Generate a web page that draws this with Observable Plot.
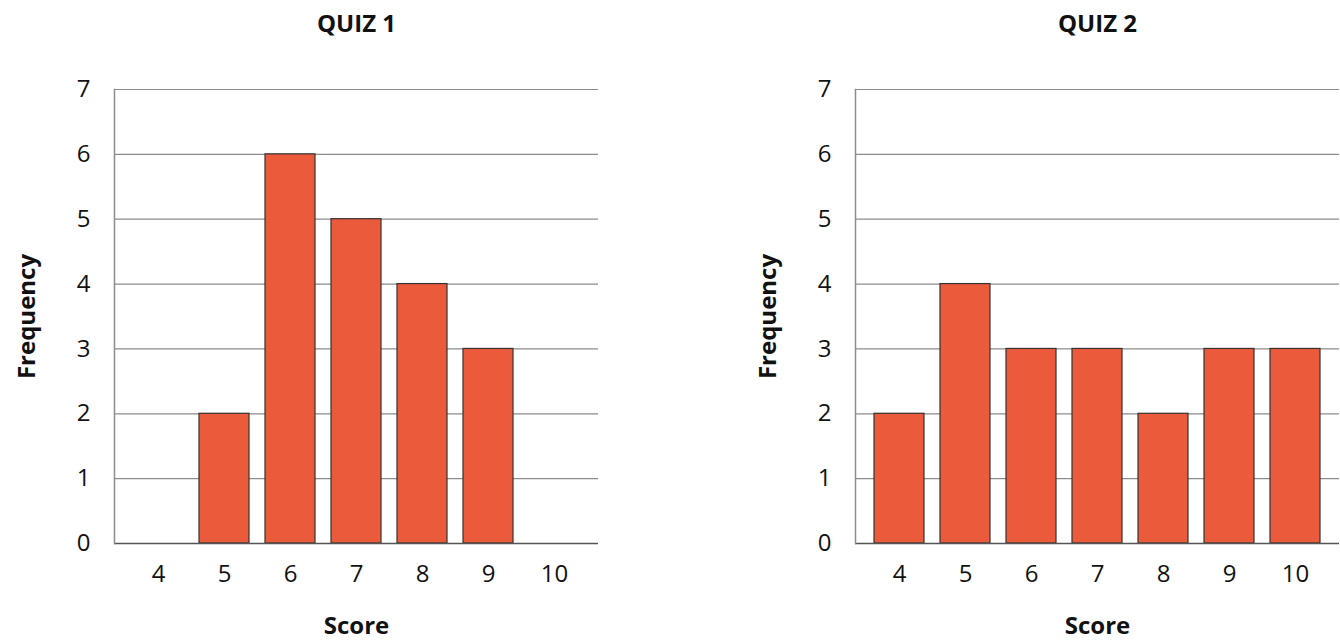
<!DOCTYPE html>
<html>
<head>
<meta charset="utf-8">
<script src="https://cdn.jsdelivr.net/npm/d3@7"></script>
<script src="https://cdn.jsdelivr.net/npm/@observablehq/plot@0.6"></script>
<style>
  html, body { margin: 0; padding: 0; background: #fff; }
  #wrap { display: flex; flex-direction: row; width: 1340px; height: 640px; overflow: hidden; }
  #wrap svg { display: block; flex: none; }
</style>
</head>
<body>
<div id="wrap"></div>
<script>
const scores = [4, 5, 6, 7, 8, 9, 10];
const quiz1Freq = [0, 2, 6, 5, 4, 3, 0];
const quiz2Freq = [2, 4, 3, 3, 2, 3, 3];
const yTicks = [0, 1, 2, 3, 4, 5, 6, 7];
const titles = ["QUIZ 1", "QUIZ 2"];
const xLabel = "Score";
const yLabel = "Frequency";

const FONT = "'Open Sans', sans-serif";
const BAR_FILL = "#ec5a3c";

function panel(title, freqs, width, marginRight) {
  const data = scores.map((s, i) => ({score: s, freq: freqs[i]})).filter(d => d.freq > 0);
  return Plot.plot({
    width,
    height: 640,
    marginTop: 89,
    marginBottom: 97,
    marginLeft: 114,
    marginRight,
    style: {fontFamily: FONT, fontSize: "24px", color: "#111", background: "#fff"},
    x: {type: "band", domain: scores, paddingInner: 0.25, paddingOuter: 0.26},
    y: {domain: [0, 7], ticks: yTicks, tickFormat: "d"},
    marks: [
      Plot.gridY(yTicks.filter(t => t > 0), {stroke: "#8c8c8c", strokeOpacity: 1, strokeWidth: 1.2}),
      Plot.barY(data, {x: "score", y: "freq", fill: BAR_FILL, stroke: "#333", strokeWidth: 1.2}),
      Plot.ruleY([0], {stroke: "#555", strokeWidth: 1.5}),
      Plot.frame({anchor: "left", stroke: "#8c8c8c", strokeWidth: 1.5}),
      Plot.axisY(yTicks, {tickSize: 0, tickPadding: 24, label: null, tickFormat: "d", fontSize: 24}),
      Plot.axisX({tickSize: 0, tickPadding: 21, label: null, fontSize: 24}),
      Plot.text([title], {frameAnchor: "top", dy: -65, fontSize: 24, fontWeight: "bold", textAnchor: "middle", lineAnchor: "middle", fill: "#111"}),
      Plot.text([yLabel], {frameAnchor: "left", rotate: -90, dx: -87, fontSize: 24, fontWeight: "bold", textAnchor: "middle", lineAnchor: "middle", fill: "#111", letterSpacing: "1.5px"}),
      Plot.text([xLabel], {frameAnchor: "bottom", dy: 83, fontSize: 24, fontWeight: "bold", textAnchor: "middle", lineAnchor: "middle", fill: "#111", letterSpacing: "1.5px"})
    ]
  });
}

const wrap = document.getElementById("wrap");
wrap.appendChild(panel(titles[0], quiz1Freq, 741, 143));
wrap.appendChild(panel(titles[1], quiz2Freq, 599, 1));
</script>
</body>
</html>
